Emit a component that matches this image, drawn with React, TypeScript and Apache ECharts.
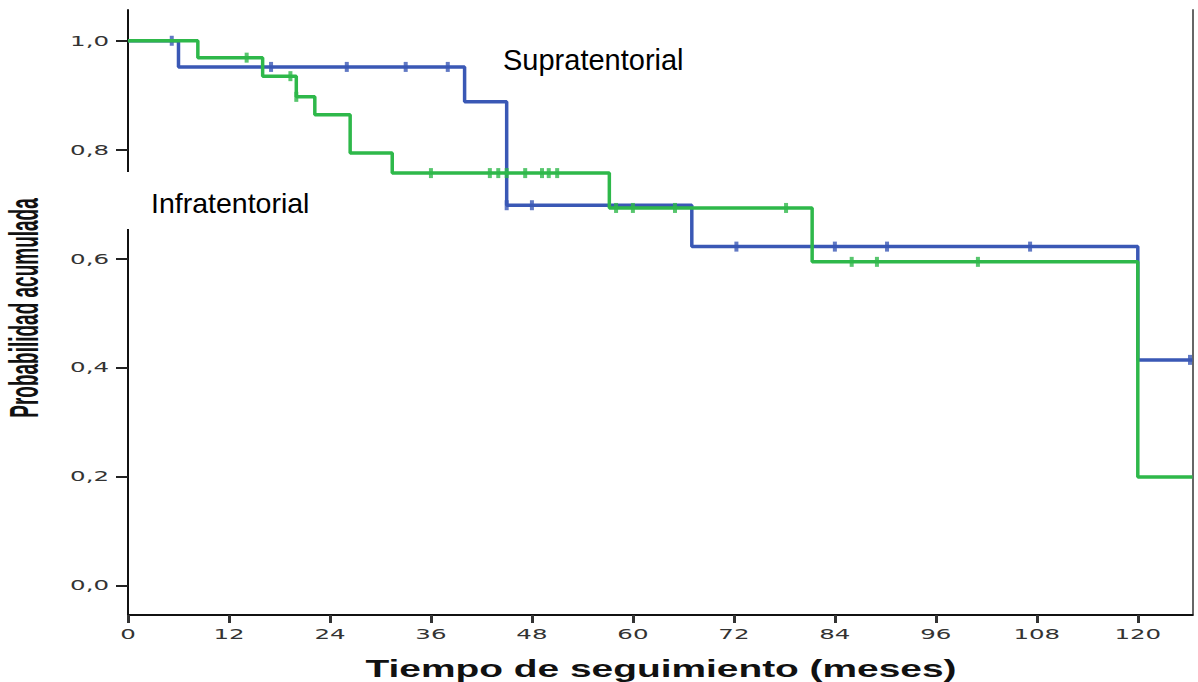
import React, { useEffect, useRef } from "react";
import * as echarts from "echarts";

// Kaplan-Meier step data (time in months, cumulative survival)
const supraTimes = [0, 6, 40, 45, 67, 120];
const supraSurv = [1.0, 0.952, 0.888, 0.698, 0.622, 0.414];
const supraCensored = [5.2, 17, 26, 33, 38, 45, 48, 72.3, 84, 90.2, 107.2, 126.2];

const infraTimes = [0, 8.3, 16, 20, 22.2, 26.4, 31.4, 57.2, 81.3, 120];
const infraSurv = [1.0, 0.969, 0.935, 0.897, 0.864, 0.794, 0.757, 0.693, 0.594, 0.199];
const infraCensored = [14.1, 19.3, 20, 36, 43, 44, 45, 47.2, 49.2, 50, 51, 58, 60, 65, 78.2, 86, 89, 101];

const xTicks = [0, 12, 24, 36, 48, 60, 72, 84, 96, 108, 120];
const yTicks = [0, 0.2, 0.4, 0.6, 0.8, 1.0];

const X_MAX = 126.5;
const Y_MIN = -0.0545;
const Y_MAX = 1.0565;

const BLUE = "#3A58B5";
const GREEN = "#2EB84A";

function survAt(times: number[], surv: number[], t: number) {
  let v = surv[0];
  for (let i = 0; i < times.length; i++) if (times[i] <= t) v = surv[i];
  return v;
}

function stepData(times: number[], surv: number[]) {
  const d = times.map((t, i) => [t, surv[i]]);
  d.push([X_MAX, surv[surv.length - 1]]);
  return d;
}

export default function App() {
  const ref = useRef<HTMLDivElement>(null);
  useEffect(() => {
    if (!ref.current) return;
    const chart = echarts.init(ref.current, undefined, { renderer: "svg" });
    chart.setOption({
      animation: false,
      backgroundColor: "#ffffff",
      grid: { left: 128, right: 5.5, top: 10, bottom: 67, containLabel: false },
      xAxis: {
        type: "value",
        min: 0,
        max: X_MAX,
        splitLine: { show: false },
        axisLine: { show: true, onZero: false, lineStyle: { color: "#111", width: 2 } },
        axisTick: { show: true, length: 8, customValues: xTicks, lineStyle: { color: "#333", width: 3 } },
        axisLabel: { show: false, customValues: xTicks },
      },
      yAxis: [
        {
          type: "value",
          min: Y_MIN,
          max: Y_MAX,
          splitLine: { show: false },
          axisLine: { show: true, onZero: false, lineStyle: { color: "#111", width: 2 } },
          axisTick: { show: true, length: 12, customValues: yTicks, lineStyle: { color: "#222", width: 2 } },
          axisLabel: { show: false, customValues: yTicks },
        },
        {
          type: "value",
          position: "right",
          min: Y_MIN,
          max: Y_MAX,
          splitLine: { show: false },
          axisLine: { show: true, onZero: false, lineStyle: { color: "#666", width: 2 } },
          axisTick: { show: false },
          axisLabel: { show: false },
        },
      ],
      series: [
        {
          name: "Supratentorial",
          type: "line",
          step: "end",
          showSymbol: false,
          symbol: "none",
          lineStyle: { color: BLUE, width: 3.5 },
          data: stepData(supraTimes, supraSurv),
          z: 2,
        },
        {
          name: "Supratentorial censurado",
          type: "scatter",
          symbol: "rect",
          symbolSize: [4, 10],
          itemStyle: { color: BLUE },
          data: supraCensored.map((t) => [t, survAt(supraTimes, supraSurv, t)]),
          z: 3,
        },
        {
          name: "Infratentorial",
          type: "line",
          step: "end",
          showSymbol: false,
          symbol: "none",
          lineStyle: { color: GREEN, width: 3.5 },
          data: stepData(infraTimes, infraSurv),
          z: 4,
        },
        {
          name: "Infratentorial censurado",
          type: "scatter",
          symbol: "rect",
          symbolSize: [4, 10],
          itemStyle: { color: GREEN },
          data: infraCensored.map((t) => [t, survAt(infraTimes, infraSurv, t)]),
          z: 5,
        },
      ],
    });

    const yAxisRight = 128 - 12 - 7;
    const graphics: any[] = [];
    yTicks.forEach((v) => {
      const py = chart.convertToPixel({ yAxisIndex: 0 }, v) as number;
      graphics.push({
        type: "text",
        x: yAxisRight,
        y: py,
        scaleX: 1.75,
        style: {
          text: v.toFixed(1).replace(".", ","),
          font: "14px 'DejaVu Sans'",
          fill: "#333",
          align: "right",
          verticalAlign: "middle",
        },
      });
    });
    xTicks.forEach((v) => {
      const px = chart.convertToPixel({ xAxisIndex: 0 }, v) as number;
      graphics.push({
        type: "text",
        x: px,
        y: 634,
        scaleX: 1.75,
        style: {
          text: String(v),
          font: "14px 'DejaVu Sans'",
          fill: "#333",
          align: "center",
          verticalAlign: "middle",
        },
      });
    });
    graphics.push(
      {
        type: "text",
        x: 661,
        y: 669,
        scaleX: 1.62,
        style: {
          text: "Tiempo de seguimiento (meses)",
          font: "bold 24px 'Liberation Sans'",
          fill: "#111",
          align: "center",
          verticalAlign: "middle",
        },
      },
      {
        type: "text",
        x: 25,
        y: 308,
        rotation: Math.PI / 2,
        scaleY: 2.1,
        style: {
          text: "Probabilidad acumulada",
          font: "bold 19px 'Liberation Sans'",
          fill: "#111",
          align: "center",
          verticalAlign: "middle",
        },
      },
      {
        type: "rect",
        z: 10,
        shape: { x: 124, y: 172, width: 196, height: 57 },
        style: { fill: "#ffffff" },
      },
      {
        type: "text",
        z: 11,
        x: 151,
        y: 203,
        style: {
          text: "Infratentorial",
          font: "28.5px 'Liberation Sans'",
          fill: "#000",
          align: "left",
          verticalAlign: "middle",
        },
      },
      {
        type: "text",
        z: 11,
        x: 503,
        y: 60,
        style: {
          text: "Supratentorial",
          font: "29px 'Liberation Sans'",
          fill: "#000",
          align: "left",
          verticalAlign: "middle",
        },
      }
    );
    chart.setOption({ graphic: graphics });

    return () => chart.dispose();
  }, []);
  return (
    <div
      ref={ref}
      style={{ position: "fixed", left: 0, top: 0, width: 1198, height: 682, background: "#fff" }}
    />
  );
}
